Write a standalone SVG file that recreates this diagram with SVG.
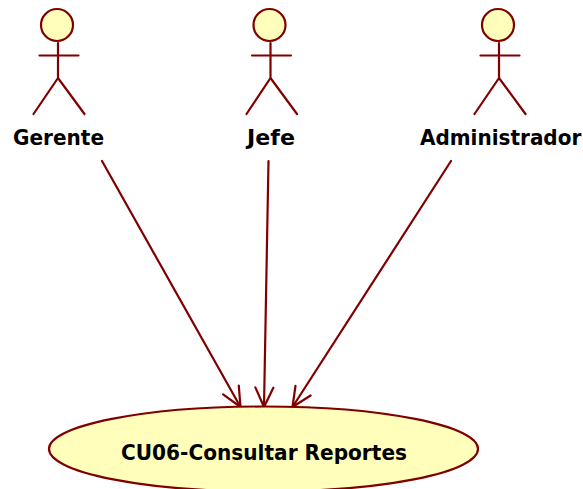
<svg xmlns="http://www.w3.org/2000/svg" width="583" height="489" viewBox="0 0 583 489">
<style>
.ln{fill:none;stroke:#800000;stroke-width:2.200;stroke-linecap:round;stroke-linejoin:round}
.fl{fill:#ffffbb;stroke:#800000;stroke-width:2.200}
.t{font-family:"DejaVu Sans",sans-serif;font-weight:700;font-size:21px;fill:#000;text-anchor:start}
</style>
<defs>
<marker id="open" markerUnits="userSpaceOnUse" markerWidth="26" markerHeight="26" refX="22" refY="13" orient="auto" viewBox="0 0 26 26">
<path d="M2.500 4 L22 13 L2.500 22" fill="none" stroke="#800000" stroke-width="2.200" stroke-linecap="round" stroke-linejoin="round"/>
</marker>
</defs>
<rect width="583" height="489" fill="#fff"/>
<g id="connectors">
<path class="ln" d="M102 161 L240.500 407" marker-end="url(#open)"/>
<path class="ln" d="M268.500 161 L264 407" marker-end="url(#open)"/>
<path class="ln" d="M451 161 L292.500 407" marker-end="url(#open)"/>
</g>
<g id="actor-gerente">
<circle class="fl" cx="57" cy="25" r="16"/>
<path class="ln" d="M58 43 V78 M39.500 55.500 H78.500 M33.500 114 L58 78 L84.500 114"/>
<text class="t" x="13" y="145" textLength="91" lengthAdjust="spacingAndGlyphs">Gerente</text>
</g>
<g id="actor-jefe">
<circle class="fl" cx="269.500" cy="25" r="16"/>
<path class="ln" d="M270.500 43 V78 M252 55.500 H291 M246.500 114 L270.500 78 L297 114"/>
<text class="t" x="247" y="145" textLength="48" lengthAdjust="spacingAndGlyphs">Jefe</text>
</g>
<g id="actor-administrador">
<circle class="fl" cx="498" cy="25" r="16"/>
<path class="ln" d="M499 43 V78 M480.500 55.500 H519.500 M474.500 114 L499 78 L525.500 114"/>
<text class="t" style="font-size:20px" transform="translate(420 145) scale(1 1.05)">Administrador</text>
</g>
<g id="usecase-cu06">
<ellipse class="fl" cx="263.500" cy="449" rx="214.500" ry="42.500"/>
<text class="t" x="121" y="460" textLength="286" lengthAdjust="spacingAndGlyphs">CU06-Consultar Reportes</text>
</g>
</svg>
